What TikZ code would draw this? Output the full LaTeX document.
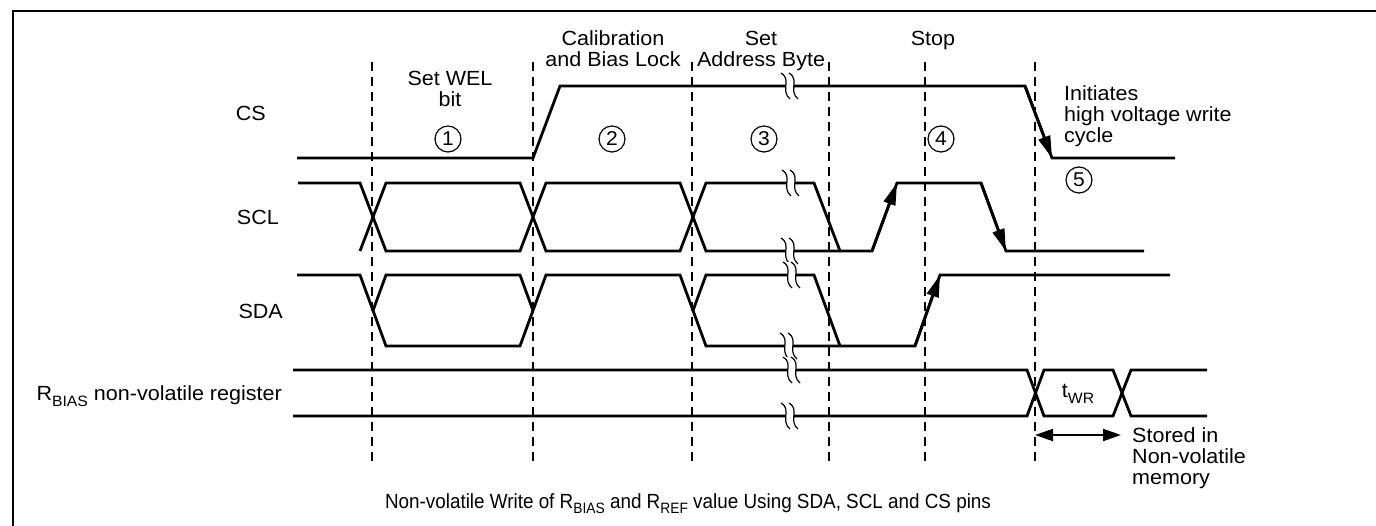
\documentclass[tikz,border=0pt]{standalone}
\usepackage{fontspec}
\setmainfont[FakeStretch=1.05]{Liberation Sans}
\newfontfamily\capfont[FakeStretch=0.92]{Liberation Sans}
\usetikzlibrary{arrows.meta}
\newcommand\lbsize{\fontsize{20.5}{21}\selectfont}
\newcommand\capsize{\capfont\fontsize{20.5}{21}\selectfont}
\newcommand\subtx[1]{\raisebox{-5.5pt}{\fontsize{15}{15}\selectfont #1}}
\begin{document}
\begin{tikzpicture}[x=1pt,y=-1pt,
  sig/.style={line width=2.8pt},
  guide/.style={line width=1.8pt, dash pattern=on 9pt off 6pt},
  frame/.style={line width=2pt},
  lbl/.style={inner sep=0pt, anchor=base, font=\lbsize},
  lblw/.style={inner sep=0pt, anchor=base west, font=\lbsize},
  lble/.style={inner sep=0pt, anchor=base east, font=\lbsize},
  num/.style={circle, draw, line width=1.2pt, minimum size=26pt, inner sep=0pt, font=\fontsize{20}{20}\selectfont},
  tip/.style={-{Triangle[length=22pt,width=12pt]}},
  brkmark/.pic={
    \fill[white] (-10,-13) .. controls (1,-7) and (-11,5) .. (-1,13) -- (7,13) .. controls (-3,5) and (9,-7) .. (-2,-13) -- cycle;
    \draw[line width=1.2pt] (-10,-13) .. controls (1,-7) and (-11,5) .. (-1,13);
    \draw[line width=1.2pt] (-2,-13) .. controls (9,-7) and (-3,5) .. (7,13);
  }]
\useasboundingbox (0,0) rectangle (1376,526);
\fill[white] (0,0) rectangle (1376,526);
% frame
\draw[frame] (13,527) -- (13,11) -- (1377,11);
% guides
\foreach \gx in {372,533,692,829,925,1035}
  \draw[guide] (\gx,62) -- (\gx,463);
% CS
\draw[sig] (297,158) -- (533,158) -- (560,86) -- (1025,86) -- (1052,158) -- (1175,158);
\draw[sig,tip] (1025,86) -- (1052,158);
% SCL
\draw[sig] (298,183) -- (360,183) -- (386,251) -- (520,251) -- (546,183) -- (680,183) -- (706,251) -- (872,251) -- (897,183) -- (981,183) -- (1006,251) -- (1144,251);
\draw[sig] (360,251) -- (386,183) -- (520,183) -- (546,251) -- (680,251) -- (706,183) -- (814,183) -- (840,251);
\draw[sig,tip] (872,251) -- (897,183);
\draw[sig,tip] (981,183) -- (1006,251);
% SDA
\draw[sig] (297,275) -- (360,275) -- (386,346) -- (520,346) -- (546,275) -- (680,275) -- (706,346) -- (915,346) -- (940,275) -- (1170,275);
\draw[sig] (373,310.5) -- (386,275) -- (520,275) -- (533,310.5);
\draw[sig] (693,310.5) -- (706,275) -- (814,275) -- (840,346);
\draw[sig,tip] (915,346) -- (940,275);
% RBIAS register
\draw[sig] (293,370) -- (1027,370) -- (1044,416) -- (1113,416) -- (1131,370) -- (1207,370);
\draw[sig] (293,416) -- (1027,416) -- (1044,370) -- (1113,370) -- (1131,416) -- (1207,416);
% break marks
\pic at (791,86) {brkmark};
\pic at (792,183) {brkmark};
\pic at (791,251) {brkmark};
\pic at (793,275) {brkmark};
\pic at (790,346) {brkmark};
\pic at (793,370) {brkmark};
\pic at (791,416) {brkmark};
% signal labels
\node[lble] (lcs) at (266,121) {CS};
\node[lble] (lscl) at (279,225) {SCL};
\node[lble] (lsda) at (283,319) {SDA};
\node[lble] (lreg) at (282,401) {R\subtx{BIAS} non-volatile register};
% phase labels
\node[lbl] (wel1) at (450,86) {Set WEL};
\node[lbl] (wel2) at (450,107) {bit};
\node[lbl] (cal1) at (613,46) {Calibration};
\node[lbl] (cal2) at (613,67) {and Bias Lock};
\node[lbl] (adr1) at (761,46) {Set};
\node[lbl] (adr2) at (761,67) {Address Byte};
\node[lbl] (stop) at (933,46) {Stop};
\node[lblw] (ini1) at (1064,101) {Initiates};
\node[lblw] (ini2) at (1064,122) {high voltage write};
\node[lblw] (ini3) at (1064,143) {cycle};
% circled numbers
\node[num] (c1) at (448,139) {1};
\node[num] (c2) at (612,139) {2};
\node[num] (c3) at (764,139) {3};
\node[num] (c4) at (941,139) {4};
\node[num] (c5) at (1079,180) {5};
% tWR
\node[lbl] (twr) at (1078,398) {t\subtx{WR}};
\coordinate (twrL) at (1035,435);
\coordinate (twrR) at (1121,435);
\draw[line width=2pt, {Triangle[length=18pt,width=12pt]}-{Triangle[length=18pt,width=12pt]}] (twrL) -- (twrR);
\node[lblw] (st1) at (1132,442) {Stored in};
\node[lblw] (st2) at (1132,463) {Non-volatile};
\node[lblw] (st3) at (1132,484) {memory};
% caption
\node[inner sep=0pt, anchor=base, font=\capsize] (cap) at (688,508) {Non-volatile Write of R\subtx{BIAS} and R\subtx{REF} value Using SDA, SCL and CS pins};
\end{tikzpicture}
\end{document}
